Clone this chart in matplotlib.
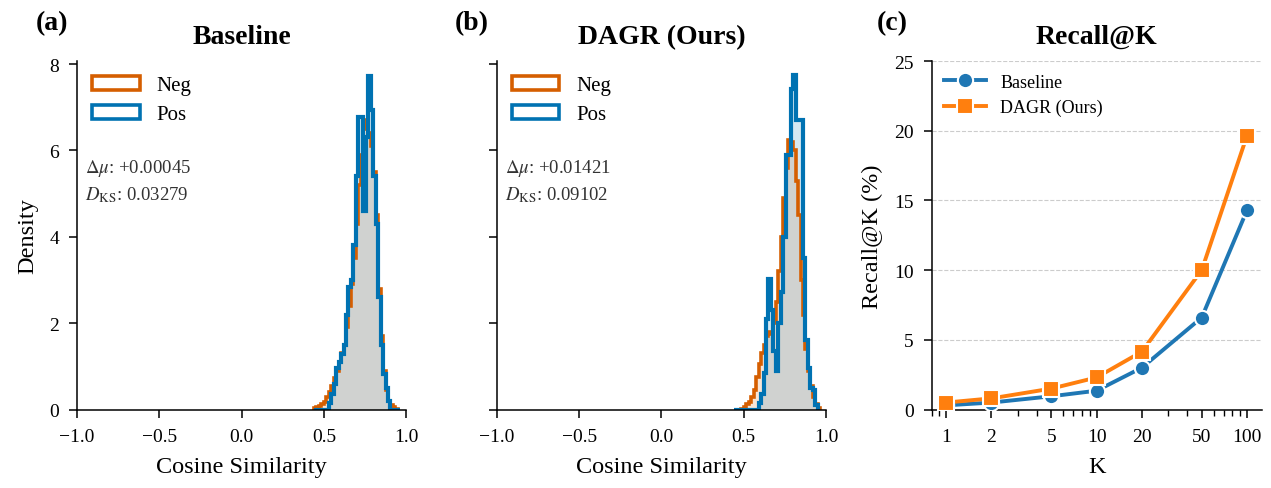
#!/usr/bin/env python

"""Cosine similarity histograms and Recall@K curves"""

import numpy as np
import matplotlib
matplotlib.use('Agg')
import matplotlib.pyplot as plt
from matplotlib.patches import Patch
from matplotlib.ticker import NullFormatter

plt.rcParams['font.family'] = 'serif'
plt.rcParams['font.serif'] = ['Liberation Serif', 'DejaVu Serif']
plt.rcParams['mathtext.fontset'] = 'stix'

# histogram bins (density, bin width 0.015 starting at 0.44)
bin_start = 0.44
bin_width = 0.015

base_neg = [0.03, 0.05, 0.08, 0.12, 0.18, 0.28, 0.40, 0.55, 0.72, 0.90,
            1.10, 1.30, 1.50, 1.90, 2.40, 2.90, 3.50, 4.30, 5.20, 5.90,
            6.50, 6.70, 6.40, 6.10, 5.50, 4.50, 2.80, 1.70, 0.90, 0.45,
            0.20, 0.10, 0.05, 0.02, 0.00]
base_pos = [0.00, 0.00, 0.00, 0.00, 0.00, 0.00, 0.15, 0.35, 0.60, 0.97,
            1.10, 1.28, 1.50, 2.20, 2.83, 3.00, 3.80, 5.40, 6.77, 6.77,
            4.60, 6.30, 7.73, 6.93, 5.40, 4.30, 2.60, 1.50, 0.82, 0.50,
            0.20, 0.00, 0.00, 0.00, 0.00]

dagr_neg = [0.00, 0.00, 0.00, 0.02, 0.05, 0.12, 0.17, 0.30, 0.45, 0.75,
            1.05, 1.30, 1.50, 1.70, 1.80, 1.75, 2.00, 2.50, 3.20, 4.00,
            4.90, 5.60, 6.25, 6.20, 6.00, 5.30, 4.50, 3.00, 2.20, 1.40,
            0.90, 0.55, 0.30, 0.12, 0.04]
dagr_pos = [0.00, 0.00, 0.00, 0.00, 0.00, 0.00, 0.00, 0.00, 0.00, 0.00,
            0.15, 0.35, 0.85, 2.10, 3.03, 2.30, 1.36, 0.90, 2.00, 2.72,
            4.00, 5.90, 5.90, 7.43, 7.74, 6.70, 6.70, 6.70, 3.50, 1.60,
            0.95, 0.50, 0.45, 0.10, 0.00]

base_stats = ['+0.00045', '0.03279']
dagr_stats = ['+0.01421', '0.09102']

# recall curves
k_values = [1, 2, 5, 10, 20, 50, 100]
recall_base = [0.30, 0.50, 0.95, 1.35, 3.00, 6.60, 14.30]
recall_dagr = [0.50, 0.80, 1.50, 2.30, 4.15, 10.00, 19.65]

c_neg = '#D55E00'
c_pos = '#0072B2'
c_base = '#1f77b4'
c_dagr = '#ff7f0e'

edges = bin_start + bin_width * np.arange(len(base_neg) + 1)

fig = plt.figure(figsize=(12.71, 4.89), dpi=100)
bottom, height = 0.1605, 0.7127
axA = fig.add_axes([0.0606, bottom, 0.2589, height])
axB = fig.add_axes([0.3910, bottom, 0.2589, height], sharey=axA)
axC = fig.add_axes([0.7330, bottom, 0.2596, height])


def style(ax):
    for s in ['top', 'right']:
        ax.spines[s].set_visible(False)
    for s in ['left', 'bottom']:
        ax.spines[s].set_linewidth(1.1)
    ax.tick_params(which='major', length=6, width=1.1, pad=7, labelsize=14)
    ax.tick_params(which='minor', length=4, width=1.0)


def hist_panel(ax, neg, pos, stats, title):
    ax.stairs(neg, edges, fill=True, color=c_neg, alpha=0.16, lw=0)
    ax.stairs(pos, edges, fill=True, color=c_pos, alpha=0.16, lw=0)
    ax.stairs(neg, edges, color=c_neg, lw=2.6)
    ax.stairs(pos, edges, color=c_pos, lw=3.0)
    ax.set_xlim(-1, 1)
    ax.set_ylim(0, 8.07)
    ax.set_xticks([-1.0, -0.5, 0.0, 0.5, 1.0])
    ax.set_yticks([0, 2, 4, 6, 8])
    ax.set_xlabel('Cosine Similarity', fontsize=17.5, labelpad=8)
    ax.set_title(title, fontsize=20, fontweight='bold', pad=13)
    handles = [Patch(facecolor='white', edgecolor=c_neg, lw=2.6),
               Patch(facecolor='white', edgecolor=c_pos, lw=2.6)]
    ax.legend(handles, ['Neg', 'Pos'], loc='upper left', frameon=False,
              fontsize=15, handlelength=2.3, handleheight=0.7,
              labelspacing=0.45, borderaxespad=0.3, bbox_to_anchor=(0.0, 1.0))
    ax.text(0.025, 0.725, '$\\Delta\\mu$: ' + stats[0] + '\n$D_{\\mathrm{KS}}$: ' + stats[1],
            transform=ax.transAxes, va='top', ha='left', fontsize=13.5,
            linespacing=1.4, color='#333333')
    style(ax)


hist_panel(axA, base_neg, base_pos, base_stats, 'Baseline')
axA.set_ylabel('Density', fontsize=17.5, labelpad=8)
hist_panel(axB, dagr_neg, dagr_pos, dagr_stats, 'DAGR (Ours)')
axB.tick_params(axis='y', labelleft=False)

# recall panel
axC.plot(k_values, recall_base, '-o', color=c_base, lw=2.8, ms=11,
         mec='white', mew=1.5, label='Baseline', zorder=3)
axC.plot(k_values, recall_dagr, '-s', color=c_dagr, lw=2.8, ms=11,
         mec='white', mew=1.5, label='DAGR (Ours)', zorder=3)
axC.set_xscale('log')
axC.set_xlim(0.8, 125)
axC.set_ylim(0, 25)
axC.set_xticks(k_values, labels=[str(k) for k in k_values])
axC.xaxis.set_minor_formatter(NullFormatter())
axC.set_yticks([0, 5, 10, 15, 20, 25])
axC.grid(axis='y', ls='--', color='#cccccc', lw=0.8, zorder=0)
axC.set_xlabel('K', fontsize=17.5, labelpad=8)
axC.set_ylabel('Recall@K (%)', fontsize=17.5, labelpad=8)
axC.set_title('Recall@K', fontsize=20, fontweight='bold', pad=13)
axC.legend(loc='upper left', frameon=False, fontsize=13, handlelength=2.3,
           labelspacing=0.45, borderaxespad=0.3)
style(axC)

fig.text(0.041, 0.9387, '(a)', ha='center', va='baseline', fontsize=20, fontweight='bold')
fig.text(0.371, 0.9387, '(b)', ha='center', va='baseline', fontsize=20, fontweight='bold')
fig.text(0.702, 0.9387, '(c)', ha='center', va='baseline', fontsize=20, fontweight='bold')

plt.savefig('out.png', dpi=100)
plt.close()
